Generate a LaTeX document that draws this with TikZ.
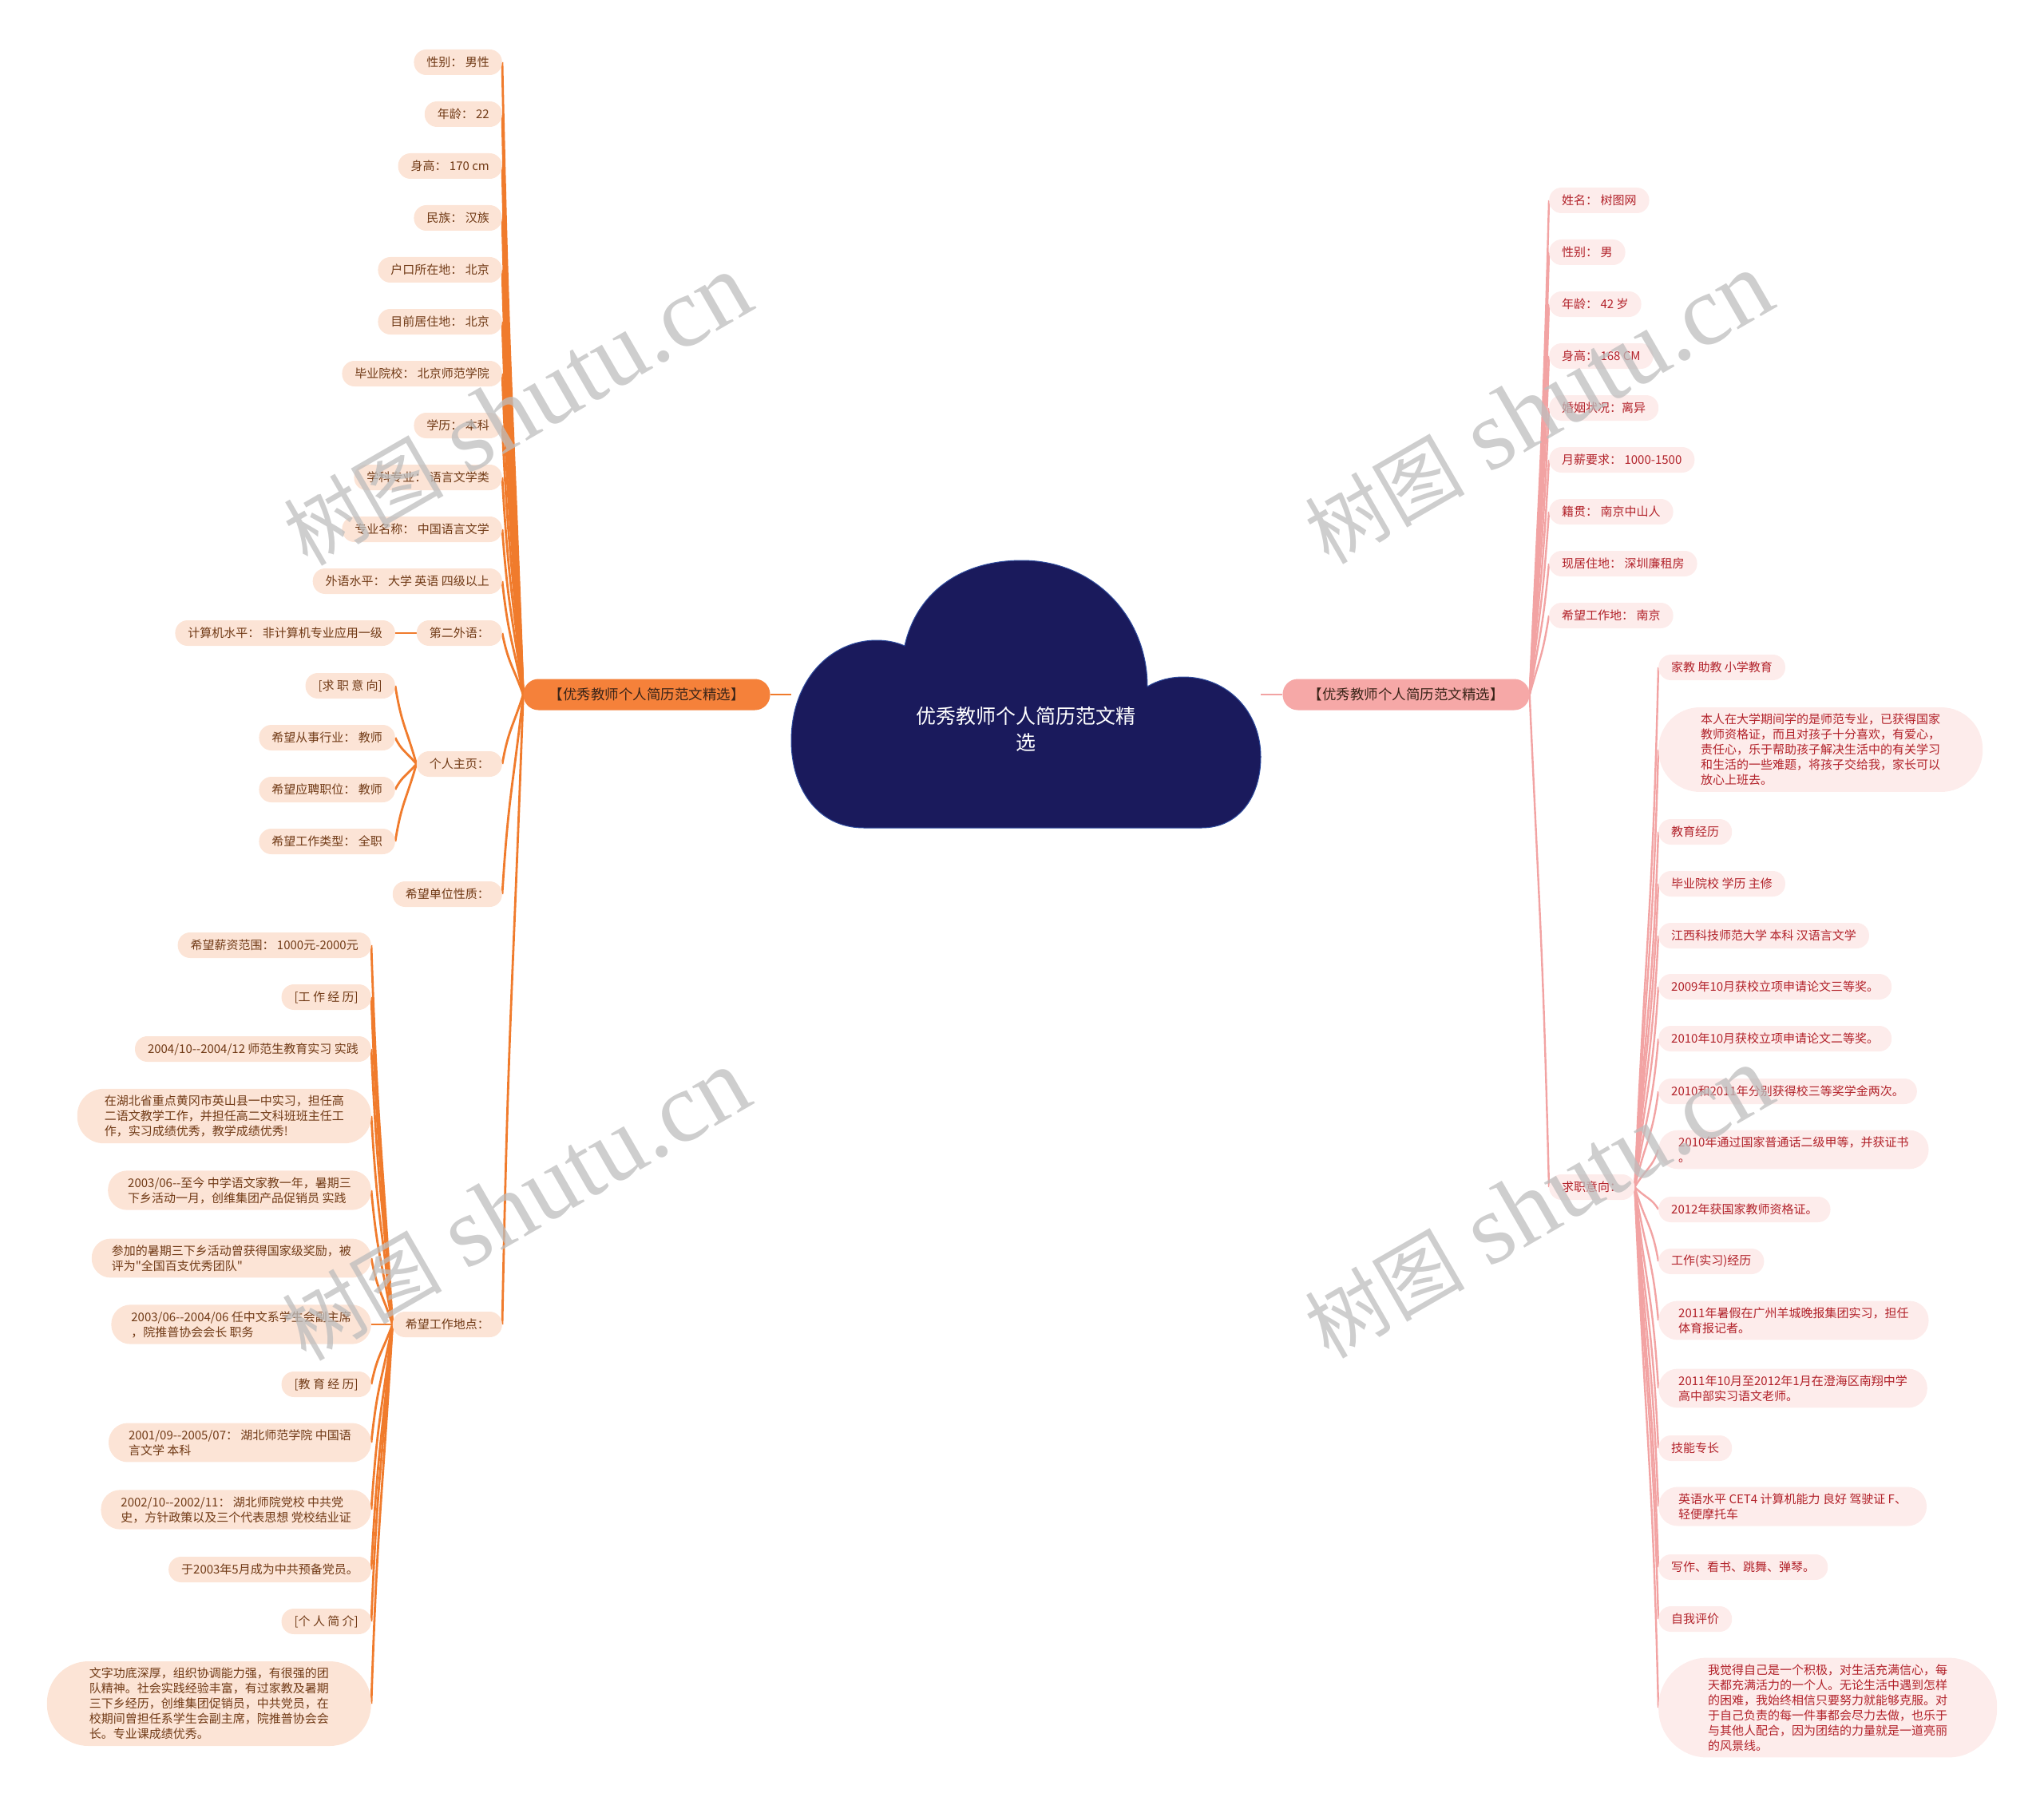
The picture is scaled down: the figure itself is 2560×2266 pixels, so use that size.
\documentclass[tikz,border=0pt]{standalone}
\usepackage{fontspec}
\newfontfamily\cjk{Noto Sans CJK SC}
\newfontfamily\wmserif{Liberation Serif}
\usetikzlibrary{calc,backgrounds}

\definecolor{cloudnavy}{HTML}{1A1A5C}
\definecolor{cloudrim}{HTML}{2F4C9E}
\definecolor{leftline}{HTML}{F07B2C}
\definecolor{leftfill}{HTML}{FCE4D6}
\definecolor{lefttext}{HTML}{713A16}
\definecolor{leftbranch}{HTML}{F5813A}
\definecolor{rightline}{HTML}{F2A3A3}
\definecolor{rightfill}{HTML}{FDECEB}
\definecolor{righttext}{HTML}{B2222A}
\definecolor{rightbranch}{HTML}{F6A8A7}
\definecolor{branchtext}{HTML}{3A2418}
\definecolor{wmgray}{HTML}{BDBDBD}

\tikzset{
  leafbox/.style={rectangle, rounded corners=15.5pt, font=\cjk\fontsize{15}{19}\selectfont,
    minimum height=32pt, inner xsep=16pt, inner ysep=8pt, align=left},
  twoline/.style={rounded corners=24pt, inner xsep=25pt},
  threeline/.style={rounded corners=33pt, inner xsep=34pt},
  fiveline/.style={rounded corners=52pt, inner xsep=53pt},
  sixline/.style={rounded corners=61pt, inner xsep=62pt},
  leftleaf/.style={leafbox, fill=leftfill, text=lefttext, anchor=east},
  rightleaf/.style={leafbox, fill=rightfill, text=righttext, anchor=west},
  branchbox/.style={rectangle, rounded corners=19pt, font=\cjk\fontsize{17.5}{20}\selectfont,
    minimum height=39pt, inner xsep=32pt, text=branchtext},
  leftedge/.style={draw=leftline, line width=2.8pt,
    to path={.. controls ($(\tikztostart)!0.5!(\tikztostart |- \tikztotarget)+(-14,0)$)
      and ($(\tikztotarget)!0.5!(\tikztotarget |- \tikztostart)+(8,0)$) .. (\tikztotarget)}},
  rightedge/.style={draw=rightline, line width=2.4pt,
    to path={.. controls ($(\tikztostart)!0.5!(\tikztostart |- \tikztotarget)+(14,0)$)
      and ($(\tikztotarget)!0.5!(\tikztotarget |- \tikztostart)+(-8,0)$) .. (\tikztotarget)}},
  watermark/.style={rotate=30, text=wmgray, opacity=0.75,
    font=\wmserif\fontsize{125}{125}\selectfont}
}

\begin{document}
\begin{tikzpicture}[x=1pt, y=-1pt]
\useasboundingbox (0,0) rectangle (2560,2266);

% cloud in the middle
\fill[cloudnavy, draw=cloudrim, line width=1pt]
  (1082,1037) .. controls (1022,1037) and (991,985) .. (991,928)
  .. controls (991,852) and (1040,802) .. (1098,802)
  .. controls (1112,802) and (1124,805) .. (1133,809)
  .. controls (1147,745) and (1200,702) .. (1280,702)
  .. controls (1370,702) and (1437,772) .. (1437,860)
  .. controls (1450,852) and (1466,848) .. (1482,848)
  .. controls (1538,848) and (1579,892) .. (1579,948)
  .. controls (1579,1000) and (1550,1037) .. (1505,1037)
  -- cycle;
\coordinate (cloudleft) at (991,870);
\coordinate (cloudright) at (1579,870);
\node (title) [text=white, align=center, font=\cjk\fontsize{25}{33}\selectfont] at (1285,913) {优秀教师个人简历范文精\\选};

\node (lbr) [branchbox, fill=leftbranch] at (810,870) {【优秀教师个人简历范文精选】};
\node (rbr) [branchbox, fill=rightbranch] at (1761,870) {【优秀教师个人简历范文精选】};

% left side
\node (sex) [leftleaf] at (629,78) {性别： 男性};
\node (age) [leftleaf] at (629,143) {年龄： 22};
\node (height) [leftleaf] at (629,208) {身高： 170 cm};
\node (nation) [leftleaf] at (629,273) {民族： 汉族};
\node (hukou) [leftleaf] at (629,338) {户口所在地： 北京};
\node (home) [leftleaf] at (629,403) {目前居住地： 北京};
\node (school) [leftleaf] at (629,468) {毕业院校： 北京师范学院};
\node (degree) [leftleaf] at (629,533) {学历： 本科};
\node (subject) [leftleaf] at (629,598) {学科专业： 语言文学类};
\node (major) [leftleaf] at (629,663) {专业名称： 中国语言文学};
\node (lang) [leftleaf] at (629,728) {外语水平： 大学 英语 四级以上};
\node (lang2) [leftleaf] at (629,793) {第二外语：};
\node (homepage) [leftleaf] at (629,957) {个人主页：};
\node (unit) [leftleaf] at (629,1120) {希望单位性质：};
\node (place) [leftleaf] at (629,1659) {希望工作地点：};

\node (computer) [leftleaf] at (495,793) {计算机水平： 非计算机专业应用一级};
\node (jobaim) [leftleaf] at (495,859) {[求 职 意 向]};
\node (trade) [leftleaf] at (495,924) {希望从事行业： 教师};
\node (post) [leftleaf] at (495,989) {希望应聘职位： 教师};
\node (jobtype) [leftleaf] at (495,1054) {希望工作类型： 全职};

\node (salary) [leftleaf] at (465,1184) {希望薪资范围： 1000元-2000元};
\node (workhead) [leftleaf] at (465,1249) {[工 作 经 历]};
\node (practice) [leftleaf] at (465,1314) {2004/10--2004/12 师范生教育实习 实践};
\node (yingshan) [leftleaf, threeline] at (465,1398) {在湖北省重点黄冈市英山县一中实习，担任高\\二语文教学工作，并担任高二文科班班主任工\\作，实习成绩优秀，教学成绩优秀!};
\node (tutor) [leftleaf, twoline] at (465,1491) {2003/06--至今 中学语文家教一年，暑期三\\下乡活动一月，创维集团产品促销员 实践};
\node (award) [leftleaf, twoline] at (465,1576) {参加的暑期三下乡活动曾获得国家级奖励，被\\评为"全国百支优秀团队"};
\node (union) [leftleaf, twoline] at (465,1659) {2003/06--2004/06 任中文系学生会副主席\\，院推普协会会长 职务};
\node (eduhead) [leftleaf] at (465,1734) {[教 育 经 历]};
\node (college) [leftleaf, twoline] at (465,1807) {2001/09--2005/07： 湖北师范学院 中国语\\言文学 本科};
\node (partyschool) [leftleaf, twoline] at (465,1891) {2002/10--2002/11： 湖北师院党校 中共党\\史，方针政策以及三个代表思想 党校结业证};
\node (member) [leftleaf] at (465,1966) {于2003年5月成为中共预备党员。};
\node (introhead) [leftleaf] at (465,2031) {[个 人 简 介]};
\node (intro) [leftleaf, fiveline] at (465,2134) {文字功底深厚，组织协调能力强，有很强的团\\队精神。社会实践经验丰富，有过家教及暑期\\三下乡经历，创维集团促销员，中共党员，在\\校期间曾担任系学生会副主席，院推普协会会\\长。专业课成绩优秀。};

% right side
\node (name) [rightleaf] at (1940,251) {姓名： 树图网};
\node (rsex) [rightleaf] at (1940,316) {性别： 男};
\node (rage) [rightleaf] at (1940,381) {年龄： 42 岁};
\node (rheight) [rightleaf] at (1940,446) {身高： 168 CM};
\node (marriage) [rightleaf] at (1940,511) {婚姻状况：离异};
\node (pay) [rightleaf] at (1940,576) {月薪要求： 1000-1500};
\node (origin) [rightleaf] at (1940,641) {籍贯： 南京中山人};
\node (live) [rightleaf] at (1940,706) {现居住地： 深圳廉租房};
\node (wplace) [rightleaf] at (1940,771) {希望工作地： 南京};
\node (intent) [rightleaf] at (1940,1487) {求职意向：};

\node (tutorjob) [rightleaf] at (2077,836) {家教 助教 小学教育};
\node (statement) [rightleaf, fiveline] at (2077,939) {本人在大学期间学的是师范专业，已获得国家\\教师资格证，而且对孩子十分喜欢，有爱心，\\责任心，乐于帮助孩子解决生活中的有关学习\\和生活的一些难题，将孩子交给我，家长可以\\放心上班去。};
\node (eduexp) [rightleaf] at (2077,1042) {教育经历};
\node (schoolhead) [rightleaf] at (2077,1107) {毕业院校 学历 主修};
\node (univ) [rightleaf] at (2077,1172) {江西科技师范大学 本科 汉语言文学};
\node (prizea) [rightleaf] at (2077,1236) {2009年10月获校立项申请论文三等奖。};
\node (prizeb) [rightleaf] at (2077,1301) {2010年10月获校立项申请论文二等奖。};
\node (scholar) [rightleaf] at (2077,1367) {2010和2011年分别获得校三等奖学金两次。};
\node (mandarin) [rightleaf, twoline] at (2077,1440) {2010年通过国家普通话二级甲等，并获证书\\。};
\node (cert) [rightleaf] at (2077,1515) {2012年获国家教师资格证。};
\node (workexp) [rightleaf] at (2077,1580) {工作(实习)经历};
\node (summer) [rightleaf, twoline] at (2077,1654) {2011年暑假在广州羊城晚报集团实习，担任\\体育报记者。};
\node (teach) [rightleaf, twoline] at (2077,1739) {2011年10月至2012年1月在澄海区南翔中学\\高中部实习语文老师。};
\node (skillhead) [rightleaf] at (2077,1814) {技能专长};
\node (skills) [rightleaf, twoline] at (2077,1887) {英语水平 CET4 计算机能力 良好 驾驶证 F、\\轻便摩托车};
\node (hobby) [rightleaf] at (2077,1963) {写作、看书、跳舞、弹琴。};
\node (evalhead) [rightleaf] at (2077,2028) {自我评价};
\node (evaluation) [rightleaf, sixline] at (2077,2139) {我觉得自己是一个积极，对生活充满信心，每\\天都充满活力的一个人。无论生活中遇到怎样\\的困难，我始终相信只要努力就能够克服。对\\于自己负责的每一件事都会尽力去做，也乐于\\与其他人配合，因为团结的力量就是一道亮丽\\的风景线。};

\begin{scope}[on background layer]
\draw[leftedge] (lbr.east) -- (cloudleft);
\draw[rightedge] (cloudright) -- (rbr.west);
% left connectors
\draw[leftedge] (lbr.west) to (sex.east);
\draw[leftedge] (lbr.west) to (age.east);
\draw[leftedge] (lbr.west) to (height.east);
\draw[leftedge] (lbr.west) to (nation.east);
\draw[leftedge] (lbr.west) to (hukou.east);
\draw[leftedge] (lbr.west) to (home.east);
\draw[leftedge] (lbr.west) to (school.east);
\draw[leftedge] (lbr.west) to (degree.east);
\draw[leftedge] (lbr.west) to (subject.east);
\draw[leftedge] (lbr.west) to (major.east);
\draw[leftedge] (lbr.west) to (lang.east);
\draw[leftedge] (lbr.west) to (lang2.east);
\draw[leftedge] (lbr.west) to (homepage.east);
\draw[leftedge] (lbr.west) to (unit.east);
\draw[leftedge] (lbr.west) to (place.east);
\draw[leftedge] (lang2.west) to (computer.east);
\draw[leftedge] (homepage.west) to (jobaim.east);
\draw[leftedge] (homepage.west) to (trade.east);
\draw[leftedge] (homepage.west) to (post.east);
\draw[leftedge] (homepage.west) to (jobtype.east);
\draw[leftedge] (place.west) to (salary.east);
\draw[leftedge] (place.west) to (workhead.east);
\draw[leftedge] (place.west) to (practice.east);
\draw[leftedge] (place.west) to (yingshan.east);
\draw[leftedge] (place.west) to (tutor.east);
\draw[leftedge] (place.west) to (award.east);
\draw[leftedge] (place.west) to (union.east);
\draw[leftedge] (place.west) to (eduhead.east);
\draw[leftedge] (place.west) to (college.east);
\draw[leftedge] (place.west) to (partyschool.east);
\draw[leftedge] (place.west) to (member.east);
\draw[leftedge] (place.west) to (introhead.east);
\draw[leftedge] (place.west) to (intro.east);
% right connectors
\draw[rightedge] (rbr.east) to (name.west);
\draw[rightedge] (rbr.east) to (rsex.west);
\draw[rightedge] (rbr.east) to (rage.west);
\draw[rightedge] (rbr.east) to (rheight.west);
\draw[rightedge] (rbr.east) to (marriage.west);
\draw[rightedge] (rbr.east) to (pay.west);
\draw[rightedge] (rbr.east) to (origin.west);
\draw[rightedge] (rbr.east) to (live.west);
\draw[rightedge] (rbr.east) to (wplace.west);
\draw[rightedge] (rbr.east) to (intent.west);
\draw[rightedge] (intent.east) to (tutorjob.west);
\draw[rightedge] (intent.east) to (statement.west);
\draw[rightedge] (intent.east) to (eduexp.west);
\draw[rightedge] (intent.east) to (schoolhead.west);
\draw[rightedge] (intent.east) to (univ.west);
\draw[rightedge] (intent.east) to (prizea.west);
\draw[rightedge] (intent.east) to (prizeb.west);
\draw[rightedge] (intent.east) to (scholar.west);
\draw[rightedge] (intent.east) to (mandarin.west);
\draw[rightedge] (intent.east) to (cert.west);
\draw[rightedge] (intent.east) to (workexp.west);
\draw[rightedge] (intent.east) to (summer.west);
\draw[rightedge] (intent.east) to (teach.west);
\draw[rightedge] (intent.east) to (skillhead.west);
\draw[rightedge] (intent.east) to (skills.west);
\draw[rightedge] (intent.east) to (hobby.west);
\draw[rightedge] (intent.east) to (evalhead.west);
\draw[rightedge] (intent.east) to (evaluation.west);
\end{scope}

% watermarks
\node (wma) [watermark] at (648,514) {{\cjk\fontsize{100}{100}\selectfont 树图} shutu.cn};
\node (wmb) [watermark] at (1927,512) {{\cjk\fontsize{100}{100}\selectfont 树图} shutu.cn};
\node (wmc) [watermark] at (646,1510) {{\cjk\fontsize{100}{100}\selectfont 树图} shutu.cn};
\node (wmd) [watermark] at (1927,1507) {{\cjk\fontsize{100}{100}\selectfont 树图} shutu.cn};
\end{tikzpicture}
\end{document}
